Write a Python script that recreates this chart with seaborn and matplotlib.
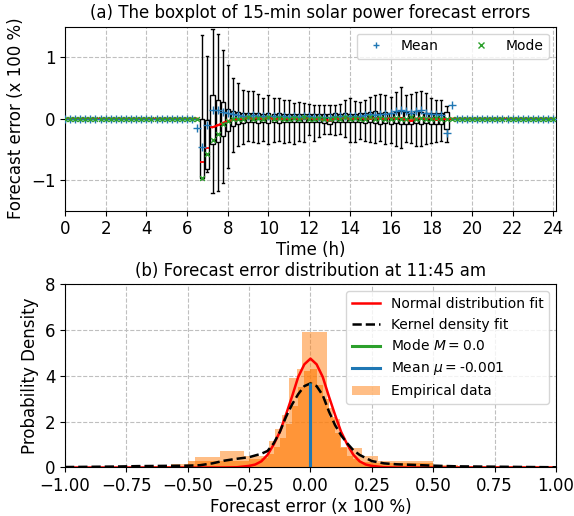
import numpy as np
import pandas as pd
import matplotlib
matplotlib.use('Agg')
import matplotlib.pyplot as plt
from matplotlib.lines import Line2D
from matplotlib.patches import Patch
import seaborn as sns

# ---------------- (a) 15-min boxplots, daytime slots 6:30 .. 19:00 ----------------
day_times = [6.5 + 0.25 * i for i in range(51)]
n_night_am = 26   # 0:00 .. 6:15, all zero
n_night_pm = 20   # 19:15 .. 24:00, all zero

whis_hi = [0.00, 1.37, 1.02, 1.46, 1.38, 1.12, 0.87, 0.66, 0.58,
           0.46, 0.45, 0.45, 0.41, 0.33, 0.38, 0.33, 0.33, 0.30, 0.30,
           0.25, 0.27, 0.26, 0.24, 0.22, 0.23, 0.22, 0.22, 0.22, 0.24,
           0.30, 0.33, 0.29, 0.28, 0.30, 0.35, 0.38, 0.41, 0.39, 0.35,
           0.44, 0.52, 0.39, 0.41, 0.44, 0.45, 0.42, 0.34, 0.31, 0.30,
           0.20, 0.00]
q3 = [0.00, 0.00, -0.02, 0.38, 0.30, 0.27, 0.16, 0.12, 0.11,
      0.09, 0.09, 0.10, 0.09, 0.08, 0.10, 0.08, 0.09, 0.08, 0.07,
      0.08, 0.07, 0.08, 0.08, 0.07, 0.07, 0.08, 0.07, 0.09, 0.08,
      0.09, 0.08, 0.08, 0.09, 0.10, 0.11, 0.12, 0.10, 0.11, 0.10,
      0.11, 0.13, 0.11, 0.10, 0.12, 0.11, 0.10, 0.10, 0.09, 0.09,
      0.11, 0.00]
med = [0.00, -0.70, -0.47, -0.14, -0.11, -0.07, -0.04, -0.02, -0.01,
       0.00, 0.01, 0.00, 0.01, 0.00, 0.01, 0.00, -0.01, 0.00, 0.00,
       0.01, 0.00, 0.00, 0.01, 0.00, -0.01, -0.02, -0.03, 0.00, 0.00,
       0.01, 0.00, 0.00, 0.01, 0.00, 0.00, 0.01, 0.00, 0.00, 0.01,
       0.00, 0.01, -0.02, -0.03, 0.00, 0.01, 0.00, 0.01, -0.02, 0.00,
       -0.01, 0.00]
q1 = [0.00, -0.96, -0.82, -0.41, -0.38, -0.28, -0.20, -0.12, -0.09,
      -0.07, -0.06, -0.06, -0.07, -0.06, -0.07, -0.06, -0.07, -0.06, -0.05,
      -0.06, -0.05, -0.06, -0.05, -0.05, -0.06, -0.07, -0.08, -0.06, -0.05,
      -0.06, -0.06, -0.05, -0.06, -0.07, -0.06, -0.07, -0.08, -0.07, -0.08,
      -0.07, -0.08, -0.09, -0.08, -0.07, -0.08, -0.07, -0.08, -0.09, -0.08,
      -0.17, 0.00]
whis_lo = [0.00, -0.98, -0.87, -1.21, -1.18, -1.05, -0.80, -0.55, -0.44,
           -0.41, -0.36, -0.38, -0.40, -0.36, -0.41, -0.38, -0.36, -0.40, -0.38,
           -0.41, -0.36, -0.38, -0.27, -0.36, -0.30, -0.25, -0.25, -0.27, -0.25,
           -0.30, -0.38, -0.38, -0.33, -0.36, -0.38, -0.40, -0.36, -0.42, -0.40,
           -0.44, -0.48, -0.38, -0.40, -0.44, -0.45, -0.42, -0.40, -0.38, -0.36,
           -0.38, 0.00]
mean_day = [-0.15, -0.46, -0.11, 0.14, 0.14, 0.11, 0.09, 0.07, 0.06,
            0.05, 0.05, 0.06, 0.04, 0.05, 0.04, 0.05, 0.04, 0.04, 0.03,
            0.04, 0.03, 0.04, 0.04, 0.03, 0.03, 0.02, 0.03, 0.04, 0.04,
            0.05, 0.04, 0.05, 0.05, 0.06, 0.07, 0.06, 0.07, 0.08, 0.10,
            0.12, 0.14, 0.12, 0.10, 0.12, 0.14, 0.09, 0.08, 0.07, 0.06,
            -0.24, 0.22]
mode_day = [0.00, -0.96, -0.57, -0.35, -0.25, -0.08, -0.03, 0.00, 0.00,
            0.00, 0.02, 0.00, 0.01, 0.00, 0.02, 0.00, 0.01, 0.00, 0.00,
            0.01, 0.00, 0.02, 0.00, 0.00, 0.01, 0.00, 0.00, 0.01, 0.00,
            0.02, 0.00, 0.01, 0.00, 0.00, 0.02, 0.00, 0.01, 0.00, 0.00,
            0.01, 0.00, 0.00, 0.02, 0.00, 0.01, 0.00, 0.00, 0.01, 0.00,
            0.00, 0.00]
# sunrise slots whose medians are shown only as box medians (no connecting line)
line_gap_times = [6.75, 7.0]

# ---------------- (b) error distribution at 11:45 ----------------
edges_wide = [-1.0, -0.67, -0.57, -0.47, -0.37, -0.27, -0.17, -0.143, -0.116,
              -0.089, -0.055, -0.033, 0.066, 0.093, 0.12, 0.208, 0.276, 0.5, 0.6, 1.0]
dens_wide = [0.03, 0.08, 0.15, 0.45, 0.73, 0.5, 1.15, 1.66, 2.3,
             3.9, 4.3, 5.9, 2.6, 2.1, 0.85, 0.48, 0.29, 0.1, 0.05]
edges_fine = [-1.0, -0.5, -0.25, -0.2, -0.175, -0.15, -0.125, -0.1, -0.075, -0.05,
              -0.025, 0.0, 0.025, 0.05, 0.075, 0.1, 0.125, 0.15, 0.175, 0.2, 0.25, 0.5, 1.0]
dens_fine = [0.02, 0.3, 0.35, 0.4, 0.6, 0.9, 1.3, 1.9, 2.7, 3.5,
             4.2, 4.3, 3.6, 3.0, 2.2, 1.5, 0.9, 0.5, 0.35, 0.25, 0.2, 0.02]

kde_x = [-1.0, -0.9, -0.8, -0.7, -0.6, -0.5, -0.45, -0.4, -0.35, -0.3, -0.25, -0.2,
         -0.175, -0.15, -0.125, -0.1, -0.075, -0.05, -0.025, 0.0, 0.025, 0.05, 0.075,
         0.1, 0.125, 0.15, 0.175, 0.2, 0.25, 0.3, 0.35, 0.4, 0.5, 0.6, 0.7, 0.8, 0.9, 1.0]
kde_y = [0.02, 0.03, 0.04, 0.06, 0.07, 0.08, 0.1, 0.18, 0.3, 0.38, 0.45, 0.6,
         0.72, 1.05, 1.55, 2.2, 2.75, 3.2, 3.55, 3.67, 3.55, 3.15, 2.45,
         1.85, 1.4, 1.05, 0.75, 0.55, 0.28, 0.18, 0.14, 0.12, 0.08, 0.05, 0.04, 0.03, 0.02, 0.01]

norm_x = [-1.0, -0.5, -0.35, -0.3, -0.25, -0.225, -0.2, -0.175, -0.15, -0.125, -0.1,
          -0.075, -0.05, -0.025, 0.0, 0.025, 0.05, 0.075, 0.1, 0.125, 0.15, 0.175,
          0.2, 0.225, 0.25, 0.3, 0.35, 0.5, 1.0]
norm_y = [0.0, 0.0, 0.0, 0.01, 0.07, 0.13, 0.27, 0.55, 1.0, 1.55, 2.3,
          3.1, 3.95, 4.5, 4.75, 4.5, 3.95, 3.1, 2.3, 1.55, 1.0, 0.55,
          0.27, 0.13, 0.07, 0.01, 0.0, 0.0, 0.0]

mode_val = 0.0
mean_val = -0.001
peak_kde = 3.67

# ---- assemble ----
times = [0.25 * i for i in range(n_night_am)] + day_times + \
        [19.25 + 0.25 * i for i in range(n_night_pm)]
zeros_am = [0.0] * n_night_am
zeros_pm = [0.0] * n_night_pm
med_all = zeros_am + med + zeros_pm
mean_all = zeros_am + mean_day + zeros_pm
mode_all = zeros_am + mode_day + zeros_pm
med_line = [np.nan if t in line_gap_times else m for t, m in zip(times, med_all)]

rows = []
for t, a, b, c, d, e in zip(day_times, whis_lo, q1, med, q3, whis_hi):
    for v in (a, b, c, d, e):
        rows.append({'time': t, 'value': v})
box_df = pd.DataFrame(rows)

fig = plt.figure(figsize=(5.74, 5.16), dpi=100)
ax1 = fig.add_axes([0.1132, 0.5917, 0.8554, 0.3566])
ax2 = fig.add_axes([0.1132, 0.0940, 0.8554, 0.3554])

sns.boxplot(data=box_df, x='time', y='value', native_scale=True, whis=(0, 100),
            width=0.8, color='white', linecolor='black', linewidth=1,
            showfliers=False, medianprops=dict(color='red', linewidth=1.3), ax=ax1)
ax1.plot(times, med_line, color='red', linewidth=1.6, zorder=3)
sns.scatterplot(x=times, y=mean_all, marker='+', color='C0', s=30, linewidth=1, ax=ax1, zorder=4)
sns.scatterplot(x=times, y=mode_all, marker='x', color='C2', s=12, linewidth=1, ax=ax1, zorder=4)

ax1.set_xlim(0, 24.13)
ax1.set_ylim(-1.5, 1.5)
ax1.set_xticks(range(0, 25, 2))
ax1.set_yticks([-1, 0, 1])
ax1.grid(True, linestyle='--', color='0.75', linewidth=0.8)
ax1.set_axisbelow(True)
ax1.set_title('(a) The boxplot of 15-min solar power forecast errors', fontsize=12)
ax1.set_xlabel('Time (h)', fontsize=12, labelpad=2)
ax1.set_ylabel('Forecast error (x 100 %)', fontsize=12)
ax1.tick_params(labelsize=12)
h1 = [Line2D([], [], marker='+', color='C0', linestyle='none', markersize=5),
      Line2D([], [], marker='x', color='C2', linestyle='none', markersize=4)]
ax1.legend(h1, ['Mean', 'Mode'], ncol=2, loc='upper right', fontsize=10)

# ---- (b) ----
sns.histplot(x=[(a + b) / 2 for a, b in zip(edges_wide[:-1], edges_wide[1:])], weights=dens_wide,
             bins=edges_wide, color='C1', alpha=0.5, linewidth=0, ax=ax2)
sns.histplot(x=[(a + b) / 2 for a, b in zip(edges_fine[:-1], edges_fine[1:])], weights=dens_fine,
             bins=edges_fine, color='C1', alpha=0.65, linewidth=0, ax=ax2)
sns.lineplot(x=norm_x, y=norm_y, color='red', linewidth=1.8, ax=ax2)
sns.lineplot(x=kde_x, y=kde_y, color='black', linestyle='--', linewidth=1.8, ax=ax2)
ax2.vlines(mode_val, 0, peak_kde, color='C2', linewidth=2.2)
ax2.vlines(mean_val, 0, peak_kde, color='C0', linewidth=2.2)

ax2.set_xlim(-1, 1)
ax2.set_ylim(0, 8)
ax2.set_xticks([-1, -0.75, -0.5, -0.25, 0, 0.25, 0.5, 0.75, 1])
ax2.set_yticks([0, 2, 4, 6, 8])
ax2.grid(True, linestyle='--', color='0.75', linewidth=0.8)
ax2.set_axisbelow(True)
ax2.set_title('(b) Forecast error distribution at 11:45 am', fontsize=12)
ax2.set_xlabel('Forecast error (x 100 %)', fontsize=12, labelpad=2)
ax2.set_ylabel('Probability Density', fontsize=12)
ax2.tick_params(labelsize=12)
h2 = [Line2D([], [], color='red', linewidth=1.8),
      Line2D([], [], color='black', linestyle='--', linewidth=1.8),
      Line2D([], [], color='C2', linewidth=2.2),
      Line2D([], [], color='C0', linewidth=2.2),
      Patch(facecolor='C1', alpha=0.5)]
l2 = ['Normal distribution fit', 'Kernel density fit', r'Mode $M=0.0$',
      r'Mean $\mu=$-0.001', 'Empirical data']
ax2.legend(h2, l2, loc='upper right', fontsize=10)

fig.savefig('out.png', dpi=100)
